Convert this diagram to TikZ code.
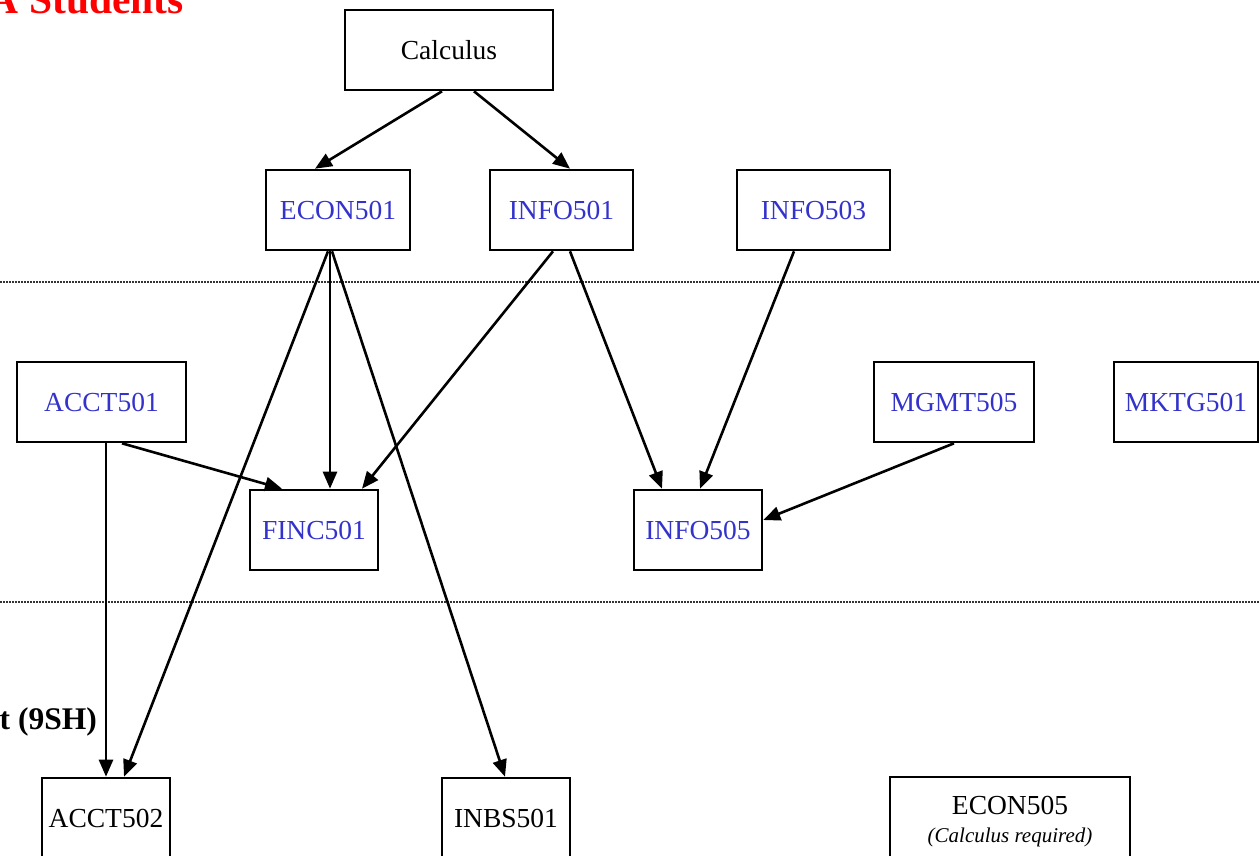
\documentclass[tikz,border=0pt]{standalone}
\usepackage{fontspec}
\setmainfont{Liberation Serif}
\usetikzlibrary{arrows.meta}
\definecolor{course}{RGB}{51,51,204}
\begin{document}
\begin{tikzpicture}[x=1pt,y=-1pt,
  box/.style={draw=black,line width=2.6pt,minimum height=80pt,inner sep=0pt,
    font=\fontsize{27.5}{30}\selectfont,align=center},
  crs/.style={box,text=course},
  arr/.style={line width=2.6pt,-{Triangle[length=17pt,width=14pt]}},
  sep/.style={line width=1.3pt,dash pattern=on 1.5pt off 1.5pt,black!80}]
\useasboundingbox (0,0) rectangle (1260,855);
% title fragments
\node[anchor=base east,inner sep=0pt,text=red,font=\fontsize{41.5}{44}\selectfont\bfseries] (title) at (184,13) {A Students};
\node[anchor=base east,inner sep=0pt,font=\fontsize{31.5}{34}\selectfont\bfseries] (lab9) at (97,729) {t (9SH)};
% separators
\coordinate (s1a) at (0,282); \coordinate (s1b) at (1260,282);
\coordinate (s2a) at (0,602); \coordinate (s2b) at (1260,602);
\draw[sep] (s1a) -- (s1b);
\draw[sep] (s2a) -- (s2b);
% nodes
\node[box,minimum width=208pt] (calc) at (449,50) {Calculus};
\node[crs,minimum width=144pt] (econ) at (338,210) {ECON501};
\node[crs,minimum width=143pt] (info1) at (561.5,210) {INFO501};
\node[crs,minimum width=153pt] (info3) at (813.5,210) {INFO503};
\node[crs,minimum width=169pt] (acct1) at (101.5,402) {ACCT501};
\node[crs,minimum width=160pt] (mgmt) at (954,402) {MGMT505};
\node[crs,minimum width=144pt] (mktg) at (1186,402) {MKTG501};
\node[crs,minimum width=128pt] (finc) at (314,530) {FINC501};
\node[crs,minimum width=128pt] (info5) at (698,530) {INFO505};
\node[box,minimum width=128pt] (acct2) at (106,818) {ACCT502};
\node[box,minimum width=128pt] (inbs) at (506,818) {INBS501};
\node[box,minimum width=240pt,minimum height=90pt] (econ5) at (1010,822) {ECON505\\[-2pt]{\fontsize{21}{24}\selectfont\itshape (Calculus required)}};
% arrows
\draw[arr] ([xshift=-7pt]calc.south) -- ([xshift=-23pt]econ.north);
\draw[arr] ([xshift=25pt]calc.south) -- ([xshift=8.5pt]info1.north);
\draw[arr] ([xshift=-8pt]econ.south) -- ([xshift=16pt]finc.north);
\draw[arr] ([xshift=-10pt]econ.south) -- ([xshift=18pt]acct2.north);
\draw[arr] ([xshift=-6pt]econ.south) -- ([xshift=-1pt]inbs.north);
\draw[arr] ([xshift=-8.5pt]info1.south) -- ([xshift=48pt]finc.north);
\draw[arr] ([xshift=8.5pt]info1.south) -- ([xshift=-36pt]info5.north);
\draw[arr] ([xshift=-19.5pt]info3.south) -- ([xshift=2pt]info5.north);
\draw[arr] ([xshift=20.5pt]acct1.south) -- ([xshift=-32pt]finc.north);
\draw[arr] ([xshift=4.5pt]acct1.south) -- (acct2.north);
\draw[arr] (mgmt.south) -- ([yshift=10pt]info5.east);
\end{tikzpicture}
\end{document}
